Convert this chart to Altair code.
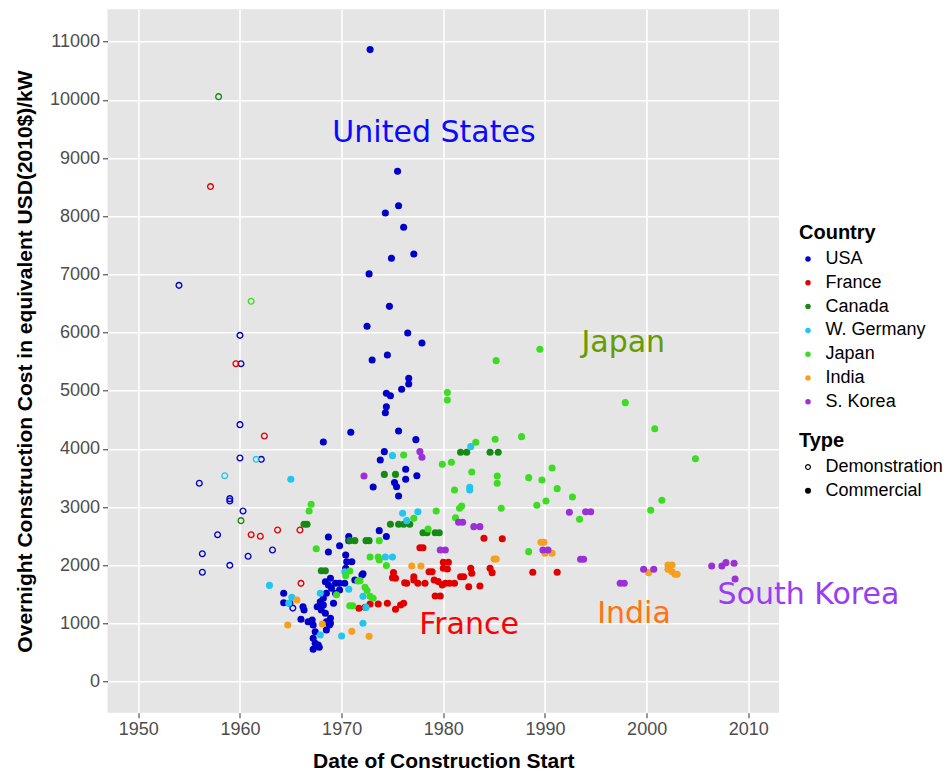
import altair as alt
import pandas as pd

# ---------------- data (year of construction start, cost USD2010/kW) ----------------
countries = ["USA", "France", "Canada", "W. Germany", "Japan", "India", "S. Korea"]
country_colors = ["#0000c8", "#e00000", "#148a14", "#22c5ee", "#3cdc22", "#f5a01e", "#9b30d6"]
types = ["Demonstration", "Commercial"]

usa_commercial = [
    (1972.8, 10864), (1975.5, 8772), (1975.6, 8180), (1974.3, 8057), (1976.1, 7810),
    (1974.9, 7279), (1977.1, 7350), (1972.7, 7009), (1974.7, 6451), (1972.5, 6108),
    (1976.5, 5994), (1977.9, 5822), (1974.5, 5616), (1973.0, 5530), (1976.6, 5216),
    (1976.6, 5117), (1975.9, 5026), (1974.4, 4958), (1974.8, 4916), (1974.4, 4727),
    (1974.3, 4624), (1975.6, 4310), (1970.9, 4287), (1977.3, 4160), (1968.2, 4120),
    (1974.2, 3954), (1973.8, 3811), (1976.3, 3651), (1977.4, 3541), (1976.3, 3479),
    (1975.2, 3422), (1975.4, 3352), (1973.1, 3347), (1975.6, 3192), (1973.7, 2596),
    (1974.4, 2497), (1968.7, 2486), (1970.7, 2497), (1970.7, 2424), (1969.8, 2338),
    (1968.7, 2230), (1970.4, 2178), (1972.1, 1856),
    (1964.3, 1519), (1964.3, 1358), (1964.9, 1348), (1966.2, 1289), (1966.3, 1232),
    (1966.0, 1073), (1966.7, 1031), (1967.1, 1060), (1967.2, 975), (1967.4, 859),
    (1967.2, 746), (1967.4, 660), (1967.7, 631), (1967.2, 557), (1967.8, 591),
    (1967.6, 1289), (1967.9, 1375), (1968.2, 1318), (1968.0, 1232), (1968.4, 1176),
    (1968.5, 1031), (1968.9, 1090), (1968.8, 975), (1968.5, 889), (1968.9, 1004),
    (1968.4, 1719), (1968.9, 1777), (1968.7, 1662), (1969.0, 1605), (1969.4, 1519),
    (1968.5, 1519), (1968.2, 1433), (1969.4, 1691), (1969.8, 1691), (1969.8, 1576),
    (1970.3, 1691), (1969.2, 1348), (1970.5, 2063), (1971.0, 2063), (1970.4, 1949),
    (1971.3, 1748), (1972.0, 1834),
]
usa_demonstration = [
    (1954.0, 6812), (1960.0, 5953), (1960.1, 5466), (1960.0, 4418), (1960.0, 3846),
    (1962.1, 3822), (1956.0, 3411), (1959.0, 3146), (1959.0, 3106), (1960.3, 2934),
    (1957.8, 2527), (1963.2, 2264), (1956.3, 2200), (1960.8, 2155), (1959.0, 2000),
    (1956.3, 1880), (1965.2, 1265),
]
france_commercial = [
    (1977.7, 2303), (1978.0, 2303), (1980.0, 2052), (1980.5, 2052), (1984.0, 2465),
    (1985.8, 2458), (1980.0, 1949), (1980.4, 1937), (1978.6, 1891), (1978.9, 1891),
    (1975.1, 1874), (1975.0, 1788), (1975.3, 1777), (1977.1, 1805), (1977.1, 1748),
    (1976.4, 1691), (1976.2, 1700), (1977.5, 1691), (1978.2, 1691), (1979.1, 1748),
    (1979.5, 1720), (1979.9, 1662), (1980.2, 1691), (1980.6, 1691), (1981.1, 1691),
    (1981.7, 1805), (1982.0, 1805), (1982.5, 1633), (1982.7, 1949), (1982.8, 1863),
    (1983.6, 1645), (1984.6, 1949), (1984.8, 1874), (1988.8, 1881), (1991.2, 1881),
    (1979.2, 1473), (1979.7, 1473), (1976.1, 1348), (1975.8, 1318), (1975.3, 1245),
    (1974.5, 1348), (1973.6, 1336), (1972.8, 1336), (1972.3, 1280), (1971.7, 1262),
]
france_demonstration = [
    (1957.1, 8510), (1959.6, 5466), (1962.4, 4224), (1963.7, 2607), (1965.9, 2607),
    (1961.1, 2527), (1962.0, 2500), (1966.0, 1690),
]
canada_commercial = [
    (1974.2, 3563), (1975.3, 3563), (1966.6, 2706), (1966.3, 2706), (1974.8, 2706),
    (1975.6, 2706), (1976.1, 2706), (1976.7, 2706), (1970.8, 2424), (1971.3, 2424),
    (1972.4, 2424), (1972.7, 2424), (1968.0, 1908), (1968.4, 1908), (1978.0, 2561),
    (1978.4, 2561), (1979.2, 2561), (1979.6, 2561), (1981.7, 3943), (1982.3, 3943),
    (1984.6, 3943), (1985.4, 3943),
]
canada_demonstration = [(1957.9, 10056), (1960.1, 2768)]
germany_commercial = [
    (1965.0, 3479), (1975.0, 3885), (1974.3, 2144), (1975.0, 2144), (1962.9, 1655),
    (1965.1, 1451), (1967.9, 1519), (1970.3, 1891), (1970.7, 1588), (1972.1, 1467),
    (1976.0, 2895), (1977.5, 2922), (1976.4, 2768), (1964.8, 1348), (1972.4, 1277),
    (1972.1, 1004), (1970.0, 785), (1967.9, 803), (1982.7, 4040), (1982.6, 3342),
    (1982.6, 3296),
]
germany_demonstration = [(1958.5, 3541), (1961.6, 3822)]
japan_commercial = [
    (1967.0, 3050), (1966.8, 2934), (1967.5, 2286), (1973.7, 2424), (1972.8, 2144),
    (1973.6, 2144), (1973.7, 2092), (1974.4, 1995), (1970.4, 1822), (1971.6, 1731),
    (1970.8, 1903), (1971.8, 1737), (1972.3, 1623), (1972.5, 1568), (1972.8, 1467),
    (1973.1, 1434), (1970.8, 1306), (1971.1, 1306), (1969.5, 1495), (1977.1, 2808),
    (1979.3, 2935), (1980.4, 4972), (1980.4, 4843), (1979.9, 3737), (1980.8, 3772),
    (1982.8, 3605), (1981.1, 3296), (1981.6, 2981), (1981.2, 2819), (1983.2, 4115),
    (1985.1, 4167), (1985.3, 3536), (1985.3, 3410), (1976.1, 3897), (1987.7, 4212),
    (1988.4, 3507), (1989.7, 3467), (1990.7, 3673), (1991.2, 3318), (1989.2, 3032),
    (1990.1, 3106), (1992.7, 3175), (1993.4, 2792), (1985.7, 2981), (1981.8, 3020),
    (1978.5, 2625), (1988.4, 2235), (1997.9, 4796), (2000.8, 4349), (2004.8, 3833),
    (2001.5, 3118), (2000.4, 2946), (1989.5, 5714), (1985.2, 5518),
]
japan_demonstration = [(1961.1, 6540)]
india_commercial = [
    (1976.9, 1989), (1977.8, 1989), (1985.0, 2109), (1985.2, 2109), (1965.6, 1404),
    (1964.7, 975), (1968.1, 992), (1971.0, 865), (1972.7, 779), (1989.6, 2396),
    (1989.9, 2396), (1990.0, 2207), (1990.7, 2207), (2000.2, 1874), (2002.1, 2006),
    (2002.5, 2006), (2002.1, 1932), (2002.5, 1891), (2002.8, 1846), (2003.0, 1846),
]
korea_commercial = [
    (1972.2, 3536), (1977.7, 3954), (1977.9, 3857), (1981.5, 2740), (1981.9, 2740),
    (1983.0, 2665), (1983.6, 2665), (1979.7, 2264), (1980.2, 2264), (1992.4, 2912),
    (1994.0, 2922), (1994.5, 2922), (1989.8, 2264), (1990.3, 2264), (1993.5, 2104),
    (1993.8, 2104), (1997.4, 1691), (1997.8, 1691), (1999.7, 1932), (2000.7, 1932),
    (2006.4, 1989), (2007.4, 1989), (2007.8, 2046), (2008.6, 2035), (2008.7, 1766),
]

# in-plot country annotations
ann_labels = ["United States", "Japan", "France", "India", "South Korea"]
ann_year = [1979.08, 1997.70, 1982.53, 1998.76, 2015.92]
ann_cost = [9282, 5672, 820, 1014, 1330]
ann_colors = ["#0a0aff", "#669c00", "#ff0000", "#ff7410", "#9a3cf5"]

x_ticks = [1950, 1960, 1970, 1980, 1990, 2000, 2010]
y_ticks = list(range(0, 11001, 1000))

# ---------------- table ----------------
series = [
    ("USA", "Commercial", usa_commercial), ("USA", "Demonstration", usa_demonstration),
    ("France", "Commercial", france_commercial), ("France", "Demonstration", france_demonstration),
    ("Canada", "Commercial", canada_commercial), ("Canada", "Demonstration", canada_demonstration),
    ("W. Germany", "Commercial", germany_commercial), ("W. Germany", "Demonstration", germany_demonstration),
    ("Japan", "Commercial", japan_commercial), ("Japan", "Demonstration", japan_demonstration),
    ("India", "Commercial", india_commercial),
    ("S. Korea", "Commercial", korea_commercial),
]
rows = []
for country, typ, pts in series:
    for yr, c in pts:
        rows.append({"Country": country, "Type": typ, "year": yr, "cost": c})
df = pd.DataFrame(rows)

FONT = "Liberation Sans"
x_scale = alt.Scale(domain=[1946.97, 2013.02], nice=False, zero=False)
y_scale = alt.Scale(domain=[-533, 11557], nice=False, zero=False)
country_scale = alt.Scale(domain=countries, range=country_colors)

# open circle (ring) drawn as a filled path with a hole; filled circle for commercial
RING = ("M-1,0A1,1,0,1,0,1,0A1,1,0,1,0,-1,0Z "
        "M-0.62,0A0.62,0.62,0,1,1,0.62,0A0.62,0.62,0,1,1,-0.62,0Z")

points = alt.Chart(df).mark_point(filled=True, size=50, strokeWidth=0, opacity=1,
                                  color="black").encode(
    x=alt.X("year:Q", scale=x_scale,
            axis=alt.Axis(values=x_ticks, format="d", title="Date of Construction Start",
                          titlePadding=12)),
    y=alt.Y("cost:Q", scale=y_scale,
            axis=alt.Axis(values=y_ticks, format="d",
                          title="Overnight Construction Cost in equivalent USD(2010$)/kW",
                          titlePadding=14)),
    fill=alt.Fill("Country:N", scale=country_scale,
                  legend=alt.Legend(title="Country", orient="none", legendX=691.5, legendY=214,
                                    symbolType="circle")),
    shape=alt.Shape("Type:N", scale=alt.Scale(domain=types, range=[RING, "circle"]),
                    legend=alt.Legend(title="Type", orient="none", legendX=691.5, legendY=422,
                                      symbolFillColor="black", symbolStrokeColor="black",
                                      symbolStrokeWidth=0, symbolSize=36)),
)

layers = [points]
for lab, yr, c, col in zip(ann_labels, ann_year, ann_cost, ann_colors):
    d = pd.DataFrame({"label": [lab], "year": [yr], "cost": [c]})
    layers.append(
        alt.Chart(d).mark_text(font="DejaVu Sans", fontSize=30, color=col, align="center",
                               baseline="alphabetic").encode(
            x=alt.X("year:Q", scale=x_scale), y=alt.Y("cost:Q", scale=y_scale), text="label:N")
    )

chart = alt.layer(*layers).properties(
    width=671.5, height=703.4,
    background="white",
    autosize=alt.AutoSizeParams(type="none"),
    padding={"left": 107.5, "top": 9.3, "right": 166, "bottom": 59.3},
).configure_view(
    fill="#E5E5E5", stroke=None
).configure_axis(
    domain=False, tickColor="#333333", tickSize=5, tickWidth=1,
    labelColor="#4D4D4D", labelFont=FONT, labelFontSize=18, labelPadding=3,
    titleFont=FONT, titleFontSize=21, titleFontWeight="bold", titleColor="black",
    gridColor="white", gridWidth=1.5, gridOpacity=1,
).configure_legend(
    titleFont=FONT, titleFontSize=20, titleFontWeight="bold", titleColor="black",
    labelFont=FONT, labelFontSize=18, labelColor="black",
    symbolSize=30, rowPadding=5.8, titlePadding=6.7, padding=0,
    symbolOffset=0, labelOffset=8.6,
)

chart.save("out.html", embed_options={"renderer": "svg", "actions": False})
